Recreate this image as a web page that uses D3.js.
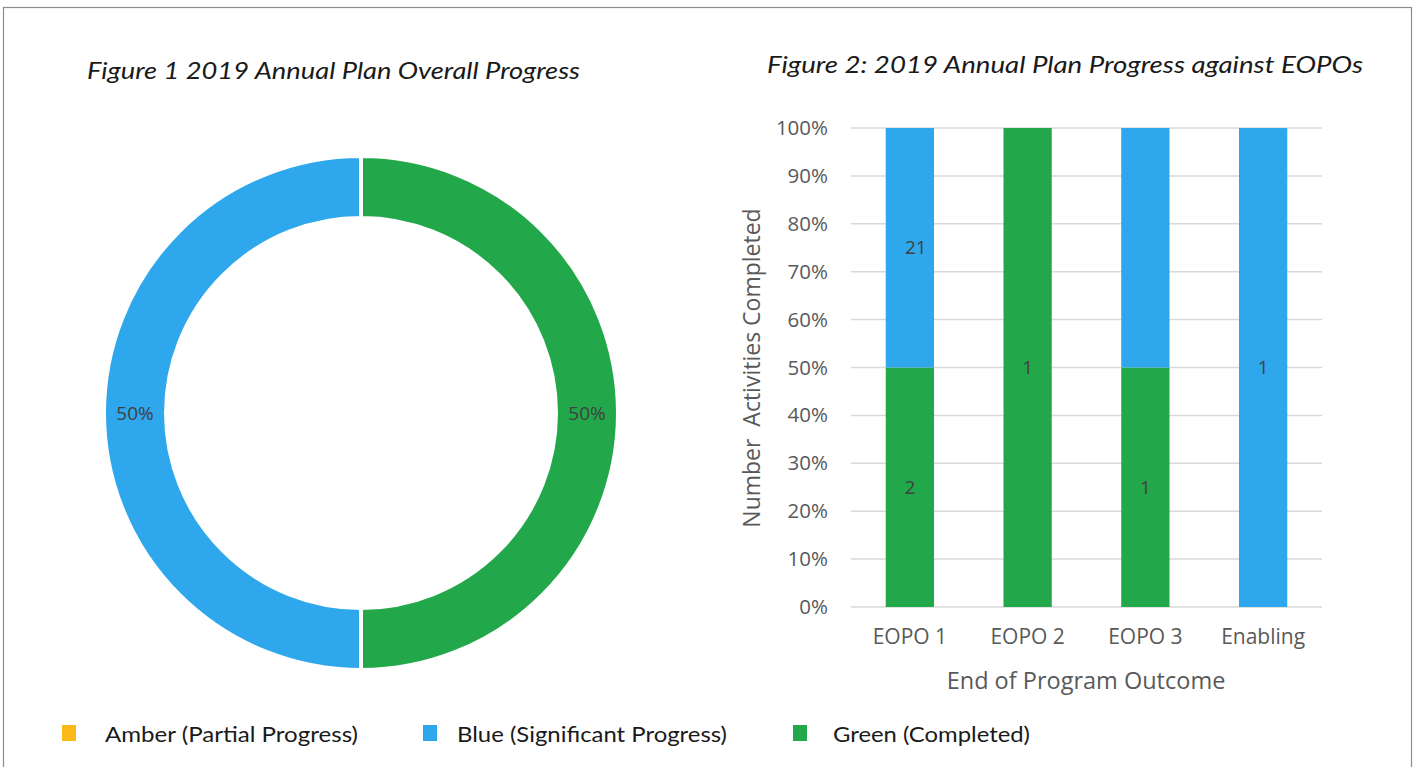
<!DOCTYPE html>
<html>
<head>
<meta charset="utf-8">
<script src="https://cdn.jsdelivr.net/npm/d3@7"></script>
<style>
  html, body { margin: 0; padding: 0; background: #fff; }
  svg { display: block; }
</style>
</head>
<body>
<svg id="chart" width="1416" height="767"></svg>
<script>
// Overall progress (donut)
const overallStatus = ["Amber", "Blue", "Green"];
const overallShare = [0, 50, 50];

// Progress per End of Program Outcome (stacked 100% bars)
const outcomes = ["EOPO 1", "EOPO 2", "EOPO 3", "Enabling"];
const greenCounts = [2, 1, 1, 0];
const blueCounts = [2, 0, 1, 1];
const amberCounts = [0, 0, 0, 0];
const greenLabels = ["2", "1", "1", ""];
const blueLabels = ["21", "", "", "1"];
const yTicks = [0, 0.1, 0.2, 0.3, 0.4, 0.5, 0.6, 0.7, 0.8, 0.9, 1];

// Legend
const legendNames = ["Amber (Partial Progress)", "Blue (Significant Progress)", "Green (Completed)"];

const colors = { Amber: "#fbb917", Blue: "#2ea7ec", Green: "#22a84a" };
const titleFont = "Lato, 'Open Sans', sans-serif";
const bodyFont = "'Open Sans', 'Noto Sans', sans-serif";

const svg = d3.select("#chart");

// outer frame
svg.append("rect")
  .attr("x", 3.5).attr("y", 7.5)
  .attr("width", 1408).attr("height", 800)
  .attr("fill", "none").attr("stroke", "#8c8c8c").attr("stroke-width", 1.2);

// ---------- Figure 1: donut ----------
svg.append("text")
  .attr("x", 87).attr("y", 79)
  .attr("font-family", titleFont).attr("font-style", "italic")
  .attr("font-size", 24).attr("fill", "#1a1a1a")
  .attr("textLength", 493).attr("lengthAdjust", "spacingAndGlyphs")
  .text("Figure 1 2019 Annual Plan Overall Progress");

const cx = 361, cy = 413, rOuter = 257, rInner = 195;
const donut = svg.append("g").attr("transform", `translate(${cx},${cy})`);

// green starts at 12 o'clock going clockwise, blue fills the left half
const pieData = overallStatus.map((s, i) => ({ status: s, value: overallShare[i] }));
const order = ["Green", "Blue", "Amber"];
const pie = d3.pie()
  .value(d => d.value)
  .sort((a, b) => order.indexOf(a.status) - order.indexOf(b.status));
const arc = d3.arc().innerRadius(rInner).outerRadius(rOuter);
const labelArc = d3.arc().innerRadius(226).outerRadius(226);

const arcs = pie(pieData).filter(d => d.data.value > 0);
donut.selectAll("path.slice")
  .data(arcs)
  .join("path")
  .attr("class", "slice")
  .attr("d", arc)
  .attr("fill", d => colors[d.data.status])
  .attr("stroke", "#fff").attr("stroke-width", 4);

donut.selectAll("text.pct")
  .data(arcs)
  .join("text")
  .attr("class", "pct")
  .attr("transform", d => `translate(${labelArc.centroid(d)})`)
  .attr("text-anchor", "middle").attr("dy", "0.35em")
  .attr("font-family", bodyFont).attr("font-size", 19).attr("fill", "#404040")
  .text(d => d3.format(".0%")(d.data.value / 100));

// ---------- Figure 2: stacked 100% bars ----------
svg.append("text")
  .attr("x", 767).attr("y", 73)
  .attr("font-family", titleFont).attr("font-style", "italic")
  .attr("font-size", 24).attr("fill", "#1a1a1a")
  .attr("textLength", 596).attr("lengthAdjust", "spacingAndGlyphs")
  .text("Figure 2: 2019 Annual Plan Progress against EOPOs");

const plot = { left: 851, right: 1322, top: 128, bottom: 607 };
const x = d3.scaleBand().domain(outcomes).range([plot.left, plot.right]).paddingInner(0.59).paddingOuter(0.295);
const y = d3.scaleLinear().domain([0, 1]).range([plot.bottom, plot.top]);

// gridlines
svg.append("g")
  .selectAll("line")
  .data(yTicks)
  .join("line")
  .attr("x1", plot.left).attr("x2", plot.right)
  .attr("y1", d => y(d)).attr("y2", d => y(d))
  .attr("stroke", "#d9d9d9").attr("stroke-width", 1.5);

// y axis labels
const yAxis = svg.append("g")
  .attr("transform", `translate(${plot.left},0)`)
  .call(d3.axisLeft(y).tickValues(yTicks).tickFormat(d3.format(".0%")).tickSize(0).tickPadding(23));
yAxis.select(".domain").remove();
yAxis.selectAll("text")
  .attr("font-family", bodyFont).attr("font-size", 20.5).attr("fill", "#595959");

// stacked series
const rows = outcomes.map((o, i) => {
  const total = greenCounts[i] + blueCounts[i] + amberCounts[i];
  return {
    outcome: o,
    Green: greenCounts[i] / total,
    Blue: blueCounts[i] / total,
    Amber: amberCounts[i] / total,
    labels: { Green: greenLabels[i], Blue: blueLabels[i] }
  };
});
const stack = d3.stack().keys(["Green", "Blue", "Amber"]);
const series = stack(rows);

const barG = svg.append("g");
series.forEach(s => {
  barG.append("g")
    .selectAll("rect")
    .data(s.filter(d => d[1] > d[0]))
    .join("rect")
    .attr("x", d => x(d.data.outcome))
    .attr("width", x.bandwidth())
    .attr("y", d => y(d[1]))
    .attr("height", d => y(d[0]) - y(d[1]))
    .attr("fill", colors[s.key]);
  barG.append("g")
    .selectAll("text")
    .data(s.filter(d => d[1] > d[0] && d.data.labels[s.key]))
    .join("text")
    .attr("x", d => x(d.data.outcome) + x.bandwidth() / 2 + (d.data.labels[s.key].length > 1 ? 6 : 0))
    .attr("y", d => y((d[0] + d[1]) / 2))
    .attr("dy", "0.35em").attr("text-anchor", "middle")
    .attr("font-family", bodyFont).attr("font-size", 19).attr("fill", "#404040")
    .text(d => d.data.labels[s.key]);
});

// x axis
const xAxis = svg.append("g")
  .attr("transform", `translate(0,${plot.bottom})`)
  .call(d3.axisBottom(x).tickSize(0).tickPadding(22));
xAxis.select(".domain").remove();
xAxis.selectAll("text")
  .attr("font-family", bodyFont).attr("font-size", 21).attr("fill", "#595959");

// axis titles
svg.append("text")
  .attr("x", 1086).attr("y", 689)
  .attr("text-anchor", "middle")
  .attr("font-family", bodyFont).attr("font-size", 23.5).attr("fill", "#595959")
  .text("End of Program Outcome");

svg.append("text")
  .attr("transform", "translate(760,368) rotate(-90)")
  .attr("text-anchor", "middle")
  .attr("font-family", bodyFont).attr("font-size", 23).attr("fill", "#595959")
  .attr("xml:space", "preserve")
  .text("Number  Activities Completed");

// ---------- Legend ----------
const legendX = [62, 423, 793];
const legendTextX = [105, 457, 833];
const legendWidths = [253, 270, 197];
const legend = svg.append("g");
legendNames.forEach((name, i) => {
  const key = overallStatus[i];
  legend.append("rect")
    .attr("x", legendX[i]).attr("y", 725)
    .attr("width", 14).attr("height", 16)
    .attr("fill", colors[key]);
  legend.append("text")
    .attr("x", legendTextX[i]).attr("y", 742)
    .attr("font-family", titleFont).attr("font-size", 22).attr("fill", "#1a1a1a")
    .attr("textLength", legendWidths[i]).attr("lengthAdjust", "spacingAndGlyphs")
    .text(name);
});
</script>
</body>
</html>
